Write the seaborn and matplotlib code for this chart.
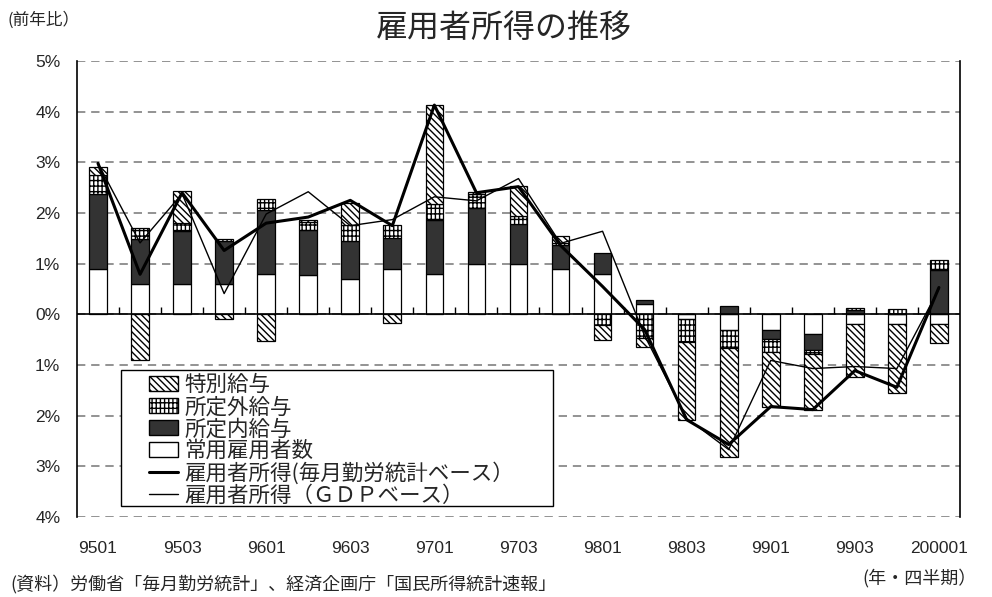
import numpy as np
import pandas as pd
import matplotlib
matplotlib.use('Agg')
import matplotlib.pyplot as plt
import seaborn as sns
from matplotlib.patches import Patch, Rectangle
from matplotlib.lines import Line2D
from matplotlib.ticker import FuncFormatter

# データ (前年比, %)
quarters = ['9501', '9502', '9503', '9504', '9601', '9602', '9603', '9604',
            '9701', '9702', '9703', '9704', '9801', '9802', '9803', '9804',
            '9901', '9902', '9903', '9904', '200001']
employees = [0.90, 0.59, 0.59, 0.59, 0.80, 0.78, 0.69, 0.89, 0.80, 0.99, 0.99,
             0.89, 0.80, 0.20, -0.09, -0.30, -0.30, -0.38, -0.20, -0.20, -0.20]
scheduled = [1.47, 0.89, 1.06, 0.85, 1.26, 0.88, 0.75, 0.61, 1.07, 1.10, 0.80,
             0.47, 0.42, 0.08, 0.00, 0.17, -0.18, -0.32, 0.08, 0.00, 0.87]
overtime = [0.38, 0.23, 0.16, 0.04, 0.21, 0.16, 0.32, 0.27, 0.30, 0.28, 0.15,
            0.05, -0.22, -0.46, -0.46, -0.36, -0.26, -0.08, 0.05, 0.10, 0.21]
special = [0.15, -0.90, 0.62, -0.10, -0.53, 0.05, 0.43, -0.17, 1.97, 0.05, 0.59,
           0.13, -0.29, -0.19, -1.54, -2.15, -1.09, -1.10, -1.04, -1.35, -0.37]
income_monthly = [2.98, 0.79, 2.40, 1.26, 1.80, 1.92, 2.25, 1.75, 4.13, 2.40, 2.52,
                  1.36, 0.55, -0.30, -2.08, -2.57, -1.82, -1.88, -1.11, -1.44, 0.53]
income_gdp = [2.98, 1.41, 2.38, 0.41, 1.98, 2.42, 1.75, 1.87, 2.32, 2.24, 2.68,
              1.40, 1.64, -0.42, -2.05, -2.67, -0.91, -1.07, -1.03, -1.07, 0.50]

sns.set_theme(style='white')
plt.rcParams['font.family'] = ['Liberation Sans Narrow', 'Liberation Sans',
                               'Noto Sans CJK JP', 'DejaVu Sans']
plt.rcParams['hatch.linewidth'] = 1.0
plt.rcParams['hatch.color'] = 'black'
jp = ['Noto Sans CJK JP', 'DejaVu Sans']

fig = plt.figure(figsize=(9.92, 5.97), dpi=100)
ax = fig.add_axes([0.0776, 0.134, 0.8901, 0.7638])

x = np.arange(len(quarters))
HATCH_SP = '\\\\\\\\\\'
HATCH_OT = '||||---'
components = [
    (employees, 'white', ''),
    (scheduled, '#333333', ''),
    (overtime, 'white', HATCH_OT),
    (special, 'white', HATCH_SP),
]

# 積み上げ (正は上へ, 負は下へ)
pos_base = np.zeros(len(x))
neg_base = np.zeros(len(x))
for vals, color, hatch in components:
    v = np.array(vals)
    base = np.where(v >= 0, pos_base, neg_base)
    ax.bar(x, v, 0.42, bottom=base, color=color, edgecolor='black',
           linewidth=0.9, hatch=hatch, zorder=3)
    pos_base += np.clip(v, 0, None)
    neg_base += np.clip(v, None, 0)

df = pd.DataFrame({'x': x, 'monthly': income_monthly, 'gdp': income_gdp})
sns.lineplot(data=df, x='x', y='gdp', color='black', lw=1.0, ax=ax, zorder=4)
sns.lineplot(data=df, x='x', y='monthly', color='black', lw=2.2, ax=ax, zorder=5)

ax.axhline(0, color='black', lw=1.2, zorder=3.5)
ax.vlines(x[:-1] + 0.5, 0, 0.14, color='black', lw=1.0, zorder=3.5)

ax.set_xlim(-0.5, len(quarters) - 0.5)
ax.set_ylim(-4, 5)
ax.set_yticks(np.arange(-4, 6, 1))
ax.yaxis.set_major_formatter(FuncFormatter(lambda v, p: f'{abs(v):.0f}%'))
ax.set_xticks(x[::2])
ax.set_xticklabels(quarters[::2])
ax.tick_params(axis='x', length=0, pad=17, labelsize=12.5)
ax.tick_params(axis='y', length=0, pad=12, labelsize=12.5)
ax.set_xlabel('')
ax.set_ylabel('')

ax.yaxis.grid(True, color='#808080', linestyle=(0, (5, 3.5)), lw=1.2, zorder=0)
ax.set_axisbelow(True)
for s in ['top', 'bottom']:
    ax.spines[s].set_visible(False)
for s in ['left', 'right']:
    ax.spines[s].set_color('black')
    ax.spines[s].set_linewidth(1.2)

# 凡例
ax.add_patch(Rectangle((0.0498, 0.024), 0.489, 0.2984, transform=ax.transAxes,
                       facecolor='white', edgecolor='black', lw=1.0, zorder=6))
handles = [
    Patch(facecolor='white', edgecolor='black', hatch=HATCH_SP, label='特別給与'),
    Patch(facecolor='white', edgecolor='black', hatch=HATCH_OT, label='所定外給与'),
    Patch(facecolor='#333333', edgecolor='black', label='所定内給与'),
    Patch(facecolor='white', edgecolor='black', label='常用雇用者数'),
    Line2D([], [], color='black', lw=2.2, label='雇用者所得(毎月勤労統計ベース）'),
    Line2D([], [], color='black', lw=1.0, label='雇用者所得（ＧＤＰベース）'),
]
leg = ax.legend(handles=handles, loc='upper left', bbox_to_anchor=(0.079, 0.318),
                frameon=False, borderpad=0.1, borderaxespad=0, handlelength=1.35,
                handleheight=0.7, handletextpad=0.3, labelspacing=0.0,
                prop={'family': jp, 'size': 15.5})
leg.set_zorder(7)

fig.text(0.008, 0.966, '(前年比）', fontsize=12, family=jp, va='center')
fig.text(0.508, 0.953, '雇用者所得の推移', fontsize=23, family=jp, ha='center', va='center')
fig.text(0.985, 0.032, '(年・四半期）', fontsize=13, family=jp, ha='right', va='center')
fig.text(0.010, 0.022, '(資料）労働省「毎月勤労統計」、経済企画庁「国民所得統計速報」',
         fontsize=13, family=jp, va='center')

fig.savefig('out.png', dpi=100)
